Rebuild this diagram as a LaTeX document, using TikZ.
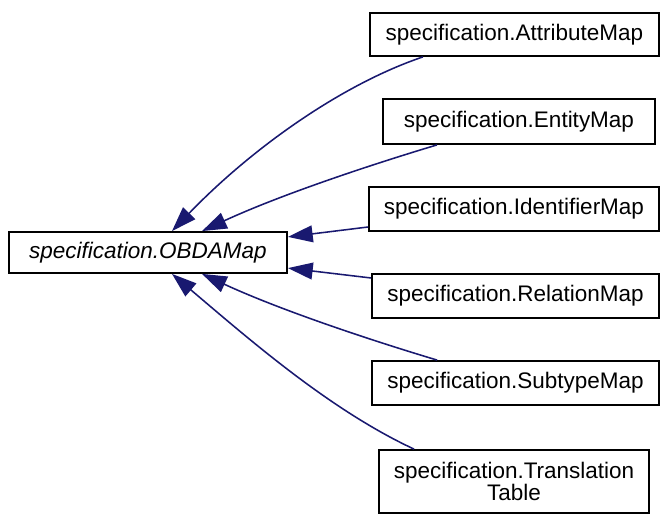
\documentclass[tikz,border=0pt]{standalone}
\usepackage{xcolor}
\usepackage{fontspec}
\setsansfont{Liberation Sans}
\usepackage{tikz}
\usetikzlibrary{arrows.meta, positioning, calc}
\definecolor{edgeblue}{HTML}{191970}
\tikzset{
cls/.style = {draw, line width = 1.3pt, inner sep = 0pt, align = center,
  font = \sffamily\fontsize{16}{15.6}\selectfont},
inh/.style = {draw = edgeblue, line width = 1.1pt,
  {Triangle[length = 0.62cm, width = 0.42cm]}-},
}

\begin{document}
\begin{tikzpicture}
\useasboundingbox (0, 0) rectangle (16.5, 12.875);
\node[cls, minimum width = 6.95cm, minimum height = 1.025cm] at (3.7, 6.5625) (obda) {\itshape specification.OBDAMap};
\node[cls, minimum width = 7.225cm, minimum height = 1.075cm] at (12.8625, 12.0125) (attr) {specification.AttributeMap};
\node[cls, minimum width = 6.8cm, minimum height = 1.125cm] at (12.975, 9.8375) (ent) {specification.EntityMap};
\node[cls, minimum width = 7.25cm, minimum height = 1.1cm] at (12.85, 7.65) (ident) {specification.IdentifierMap};
\node[cls, minimum width = 7.175cm, minimum height = 1.1cm] at (12.8875, 5.475) (rel) {specification.RelationMap};
\node[cls, minimum width = 7.175cm, minimum height = 1.1cm] at (12.8875, 3.3) (sub) {specification.SubtypeMap};
\node[cls, minimum width = 6.75cm, minimum height = 1.575cm] at (12.85, 0.8375) (trans) {specification.Translation\\Table};
\draw[inh] ([xshift = 0.6cm]obda.north) .. controls (6.25, 9.125) and (8.5, 10.75) .. ([xshift = -2.29cm]attr.south);
\draw[inh] ([xshift = 1.35cm]obda.north) .. controls (7, 8) and (9.25, 8.75) .. ([xshift = -2.05cm]ent.south);
\draw[inh] ([yshift = 0.39cm]obda.east) -- ([yshift = -0.45cm]ident.west);
\draw[inh] ([yshift = -0.39cm]obda.east) -- ([yshift = 0.45cm]rel.west);
\draw[inh] ([xshift = 1.35cm]obda.south) .. controls (7, 5.125) and (9.25, 4.375) .. ([xshift = -1.96cm]sub.north);
\draw[inh] ([xshift = 0.6cm]obda.south) .. controls (6.25, 4.375) and (8.25, 2.625) .. ([xshift = -2.5cm]trans.north);
\end{tikzpicture}
\end{document}
